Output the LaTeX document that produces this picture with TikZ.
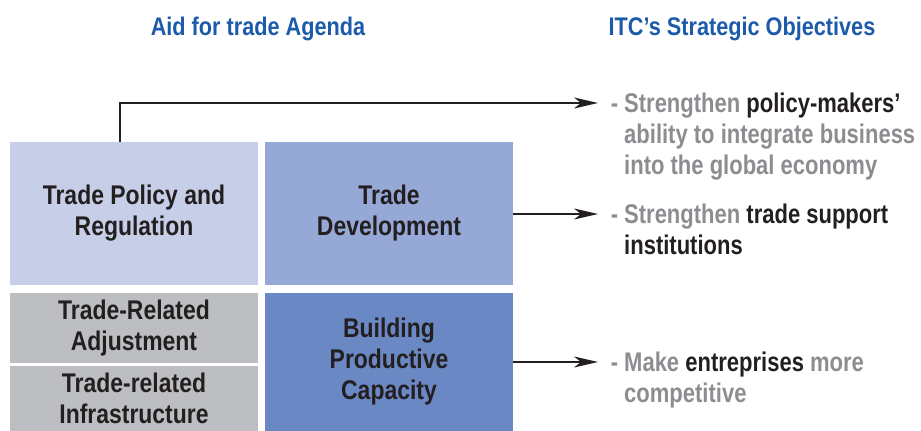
\documentclass[tikz,border=0pt]{standalone}
\usepackage{fontspec}
\setmainfont{Liberation Sans}
\newfontfamily\condfont[FakeStretch=0.85]{Liberation Sans}
\newfontfamily\objfont[FakeStretch=0.815]{Liberation Sans}
\usetikzlibrary{arrows.meta,positioning}

\definecolor{headblue}{HTML}{1C5BA9}
\definecolor{policyfill}{HTML}{C7CFE8}
\definecolor{devfill}{HTML}{96A8D6}
\definecolor{capfill}{HTML}{6A88C4}
\definecolor{adjfill}{HTML}{BDBEC1}
\definecolor{darktext}{HTML}{231F20}
\definecolor{greytext}{HTML}{8C8D90}

\tikzset{
  heading/.style={font=\condfont\bfseries\fontsize{25.5}{31}\selectfont, text=headblue, inner sep=0pt},
  agendabox/.style={minimum width=248pt, inner sep=0pt, align=center, text=darktext,
    font=\condfont\bfseries\fontsize{27}{31}\selectfont},
  objtext/.style={anchor=north west, inner sep=0pt, align=left, text=greytext,
    font=\objfont\bfseries\fontsize{27}{31}\selectfont},
  objarrow/.style={line width=2pt, draw=darktext, -{Stealth[length=24pt,width=11pt,inset=7pt]}}
}
\newcommand{\hl}[1]{\textcolor{darktext}{#1}}

\begin{document}
\begin{tikzpicture}[x=1pt,y=-1pt]
\useasboundingbox (0,0) rectangle (921,431);
% Headings
\node[heading] (agenda) at (258,29) {Aid for trade Agenda};
\node[heading] (itc) at (742,29) {ITC’s Strategic Objectives};
% Aid for trade boxes
\node[agendabox, fill=policyfill, minimum height=143pt] (policy) at (134,213.5) {Trade Policy and\\Regulation};
\node[agendabox, fill=devfill, minimum height=143pt] (dev) at (389,213.5) {Trade\\Development};
\node[agendabox, fill=adjfill, minimum height=70pt] (adjust) at (134,328) {Trade-Related\\Adjustment};
\node[agendabox, fill=adjfill, minimum height=65pt] (infra) at (134,398.5) {Trade-related\\Infrastructure};
\node[agendabox, fill=capfill, minimum height=138pt] (capacity) at (389,362) {Building\\Productive\\Capacity};
% Objectives
\node[objtext] (obj1) at (624,93) {\llap{- }Strengthen \hl{policy-makers’}\\ability to integrate business\\into the global economy};
\node[objtext] (obj2) at (624,204) {\llap{- }Strengthen \hl{trade support}\\\hl{institutions}};
\node[objtext] (obj3) at (624,352) {\llap{- }Make \hl{entreprises} more\\competitive};
% Connectors
\coordinate (policystart) at ([xshift=-14pt]policy.north);
\coordinate (obj1end) at ([xshift=-26pt,yshift=-10pt]obj1.north west);
\coordinate (obj2end) at ([xshift=-26pt,yshift=-10pt]obj2.north west);
\coordinate (obj3end) at ([xshift=-26pt,yshift=-10pt]obj3.north west);
\draw[objarrow] (policystart) |- (obj1end);
\draw[objarrow] (dev.east |- obj2end) -- (obj2end);
\draw[objarrow] (capacity.east |- obj3end) -- (obj3end);
\end{tikzpicture}
\end{document}
